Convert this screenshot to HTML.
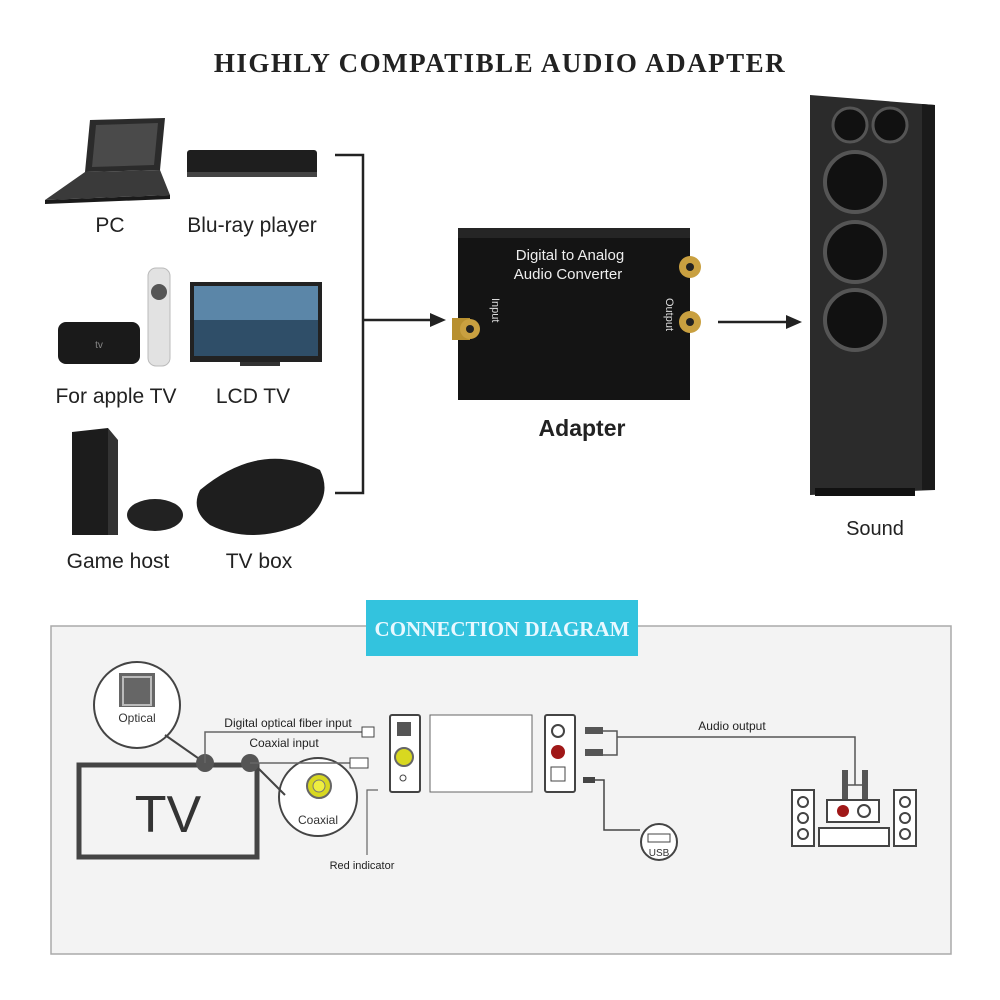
<!DOCTYPE html>
<html><head><meta charset="utf-8"><style>
html,body{margin:0;padding:0;background:#fff;}
svg{display:block;}
text{font-family:"Liberation Sans",sans-serif;}
</style></head><body>
<svg width="1000" height="1000" viewBox="0 0 1000 1000" xmlns="http://www.w3.org/2000/svg">
<rect width="1000" height="1000" fill="#fff"/>
<text x="500" y="72" text-anchor="middle" font-family="Liberation Serif" font-weight="bold" font-size="27" letter-spacing="1.5" fill="#222" style="font-family:'Liberation Serif',serif">HIGHLY COMPATIBLE AUDIO ADAPTER</text>

<!-- PC laptop -->
<polygon points="90,120 165,118 160,170 85,172" fill="#2b2b2b"/>
<polygon points="96,125 158,123 154,165 92,167" fill="#4a4a4a"/>
<polygon points="85,172 160,170 170,195 45,200" fill="#3a3a3a"/>
<polygon points="45,200 170,195 170,199 45,204" fill="#1a1a1a"/>
<!-- bluray -->
<rect x="187" y="150" width="130" height="26" rx="3" fill="#1e1e1e"/>
<rect x="187" y="172" width="130" height="5" fill="#444"/>
<text x="110" y="232" text-anchor="middle" font-size="21" fill="#222">PC</text>
<text x="252" y="232" text-anchor="middle" font-size="21" fill="#222">Blu-ray player</text>

<!-- apple tv + remote -->
<rect x="148" y="268" width="22" height="98" rx="8" fill="#e2e2e2" stroke="#bbb"/>
<circle cx="159" cy="292" r="8" fill="#555"/>
<rect x="58" y="322" width="82" height="42" rx="8" fill="#1a1a1a"/>
<text x="99" y="348" text-anchor="middle" font-size="10" fill="#888">tv</text>
<!-- LCD -->
<rect x="190" y="282" width="132" height="80" fill="#222"/>
<rect x="194" y="286" width="124" height="70" fill="#5b86a8"/>
<rect x="194" y="320" width="124" height="36" fill="#2f4e68"/>
<rect x="240" y="362" width="40" height="4" fill="#333"/>
<text x="116" y="403" text-anchor="middle" font-size="21" fill="#222">For apple TV</text>
<text x="253" y="403" text-anchor="middle" font-size="21" fill="#222">LCD TV</text>

<!-- PS4 -->
<polygon points="72,432 108,428 108,535 72,535" fill="#1c1c1c"/>
<polygon points="108,428 118,440 118,535 108,535" fill="#333"/>
<ellipse cx="155" cy="515" rx="28" ry="16" fill="#222"/>
<!-- TV box -->
<path d="M200,490 Q260,440 320,470 Q335,500 300,525 Q250,545 210,525 Q190,510 200,490Z" fill="#1e1e1e"/>
<text x="118" y="568" text-anchor="middle" font-size="21" fill="#222">Game host</text>
<text x="259" y="568" text-anchor="middle" font-size="21" fill="#222">TV box</text>

<!-- bracket -->
<path d="M335,155 H363 V493 H335" fill="none" stroke="#222" stroke-width="2.5"/>
<line x1="363" y1="320" x2="432" y2="320" stroke="#222" stroke-width="2.5"/>
<polygon points="446,320 430,313 430,327" fill="#222"/>

<!-- adapter -->
<rect x="458" y="228" width="232" height="172" fill="#141414"/>
<rect x="458" y="228" width="232" height="10" fill="#252525"/>
<text x="570" y="260" text-anchor="middle" font-size="15" fill="#eee">Digital  to Analog</text>
<text x="568" y="279" text-anchor="middle" font-size="15" fill="#eee">Audio Converter</text>
<rect x="452" y="318" width="18" height="22" fill="#b8902f"/>
<circle cx="470" cy="329" r="10" fill="#c9a040"/>
<circle cx="470" cy="329" r="4" fill="#222"/>
<circle cx="690" cy="267" r="11" fill="#c9a040"/><circle cx="690" cy="267" r="4" fill="#222"/>
<circle cx="690" cy="322" r="11" fill="#c9a040"/><circle cx="690" cy="322" r="4" fill="#222"/>
<text x="0" y="0" font-size="11" fill="#ddd" transform="translate(492,298) rotate(90)">Input</text>
<text x="0" y="0" font-size="11" fill="#ddd" transform="translate(666,298) rotate(90)">Output</text>
<text x="582" y="436" text-anchor="middle" font-size="23" font-weight="bold" fill="#222">Adapter</text>
<line x1="718" y1="322" x2="788" y2="322" stroke="#222" stroke-width="2.5"/>
<polygon points="802,322 786,315 786,329" fill="#222"/>

<!-- speaker -->
<polygon points="810,95 935,105 935,490 810,495" fill="#2b2b2b"/>
<polygon points="922,104 935,105 935,490 922,490" fill="#1a1a1a"/>
<circle cx="850" cy="125" r="17" fill="#111" stroke="#555" stroke-width="3"/>
<circle cx="890" cy="125" r="17" fill="#111" stroke="#555" stroke-width="3"/>
<circle cx="855" cy="182" r="30" fill="#111" stroke="#555" stroke-width="4"/>
<circle cx="855" cy="252" r="30" fill="#111" stroke="#555" stroke-width="4"/>
<circle cx="855" cy="320" r="30" fill="#111" stroke="#555" stroke-width="4"/>
<rect x="815" y="488" width="100" height="8" fill="#111"/>
<text x="875" y="535" text-anchor="middle" font-size="20" fill="#222">Sound</text>

<!-- connection diagram panel -->
<rect x="51" y="626" width="900" height="328" fill="#f3f3f3" stroke="#aaa" stroke-width="1.5"/>
<rect x="366" y="600" width="272" height="56" fill="#33c3de"/>
<text x="502" y="636" text-anchor="middle" font-family="Liberation Serif" font-weight="bold" font-size="21" fill="#e8f8ff" style="font-family:'Liberation Serif',serif">CONNECTION DIAGRAM</text>

<!-- TV -->
<rect x="79" y="765" width="178" height="92" fill="none" stroke="#444" stroke-width="5"/>
<text x="168" y="832" text-anchor="middle" font-size="52" fill="#333">TV</text>
<circle cx="137" cy="705" r="43" fill="#fff" stroke="#444" stroke-width="2"/>
<rect x="119" y="673" width="36" height="34" fill="#666"/>
<rect x="123" y="677" width="28" height="28" fill="none" stroke="#bbb" stroke-width="2"/>
<text x="137" y="722" text-anchor="middle" font-size="12" fill="#333">Optical</text>
<circle cx="318" cy="797" r="39" fill="#fff" stroke="#444" stroke-width="2"/>
<circle cx="319" cy="786" r="12" fill="#d8d820" stroke="#666" stroke-width="2"/>
<circle cx="319" cy="786" r="6" fill="#eeee40" stroke="#777"/>
<text x="318" y="824" text-anchor="middle" font-size="12" fill="#333">Coaxial</text>
<line x1="165" y1="735" x2="205" y2="763" stroke="#444" stroke-width="2"/>
<line x1="255" y1="765" x2="285" y2="795" stroke="#444" stroke-width="2"/>
<circle cx="205" cy="763" r="9" fill="#555"/>
<circle cx="250" cy="763" r="9" fill="#555"/>
<path d="M205,763 V732 H372" fill="none" stroke="#666" stroke-width="1.5"/>
<path d="M250,763 H350" fill="none" stroke="#666" stroke-width="1.5"/>
<rect x="362" y="727" width="12" height="10" fill="#fff" stroke="#444"/>
<rect x="350" y="758" width="18" height="10" fill="#fff" stroke="#444"/>
<text x="288" y="727" text-anchor="middle" font-size="12" fill="#222">Digital optical fiber input</text>
<text x="284" y="747" text-anchor="middle" font-size="12" fill="#222">Coaxial input</text>

<!-- converter -->
<rect x="390" y="715" width="30" height="77" rx="2" fill="#fff" stroke="#444" stroke-width="2"/>
<rect x="397" y="722" width="14" height="14" fill="#555"/>
<circle cx="404" cy="757" r="9" fill="#d8d820" stroke="#666" stroke-width="2"/>
<circle cx="403" cy="778" r="3" fill="none" stroke="#444"/>
<rect x="430" y="715" width="102" height="77" fill="#fff" stroke="#666"/>
<rect x="545" y="715" width="30" height="77" rx="2" fill="#fff" stroke="#444" stroke-width="2"/>
<circle cx="558" cy="731" r="6" fill="#fff" stroke="#444" stroke-width="2"/>
<circle cx="558" cy="752" r="7" fill="#a01818"/>
<rect x="551" y="767" width="14" height="14" fill="#fff" stroke="#444"/>
<path d="M366,910 V910" stroke="none"/>
<path d="M367,855 V790 H378" fill="none" stroke="#666" stroke-width="1.2"/>
<text x="362" y="869" text-anchor="middle" font-size="11" fill="#222">Red indicator</text>
<!-- output cables -->
<rect x="585" y="727" width="18" height="7" fill="#555"/>
<rect x="585" y="749" width="18" height="7" fill="#555"/>
<path d="M603,731 H617 V755 H603 M617,737 H855 V785" fill="none" stroke="#555" stroke-width="1.5"/>
<text x="732" y="730" text-anchor="middle" font-size="12" fill="#222">Audio output</text>
<rect x="583" y="777" width="12" height="6" fill="#444"/>
<path d="M595,780 H604 V830 H640" fill="none" stroke="#444" stroke-width="1.5"/>
<circle cx="659" cy="842" r="18" fill="#fff" stroke="#444" stroke-width="2"/>
<rect x="648" y="834" width="22" height="8" fill="none" stroke="#444"/>
<text x="659" y="856" text-anchor="middle" font-size="10" fill="#333">USB</text>
<!-- stereo -->
<path d="M845,785 H866" stroke="#555" stroke-width="1.5"/>
<rect x="842" y="770" width="6" height="32" fill="#555"/>
<rect x="862" y="770" width="6" height="32" fill="#555"/>
<rect x="827" y="800" width="52" height="22" fill="#fff" stroke="#444" stroke-width="2"/>
<circle cx="843" cy="811" r="6" fill="#a01818"/>
<circle cx="864" cy="811" r="6" fill="#fff" stroke="#444" stroke-width="2"/>
<rect x="819" y="828" width="70" height="18" fill="#fff" stroke="#444" stroke-width="2"/>
<rect x="792" y="790" width="22" height="56" fill="#fff" stroke="#444" stroke-width="2"/>
<rect x="894" y="790" width="22" height="56" fill="#fff" stroke="#444" stroke-width="2"/>
<circle cx="803" cy="802" r="5" fill="none" stroke="#444" stroke-width="2"/>
<circle cx="803" cy="818" r="5" fill="none" stroke="#444" stroke-width="2"/>
<circle cx="803" cy="834" r="5" fill="none" stroke="#444" stroke-width="2"/>
<circle cx="905" cy="802" r="5" fill="none" stroke="#444" stroke-width="2"/>
<circle cx="905" cy="818" r="5" fill="none" stroke="#444" stroke-width="2"/>
<circle cx="905" cy="834" r="5" fill="none" stroke="#444" stroke-width="2"/>
</svg>
</body></html>
